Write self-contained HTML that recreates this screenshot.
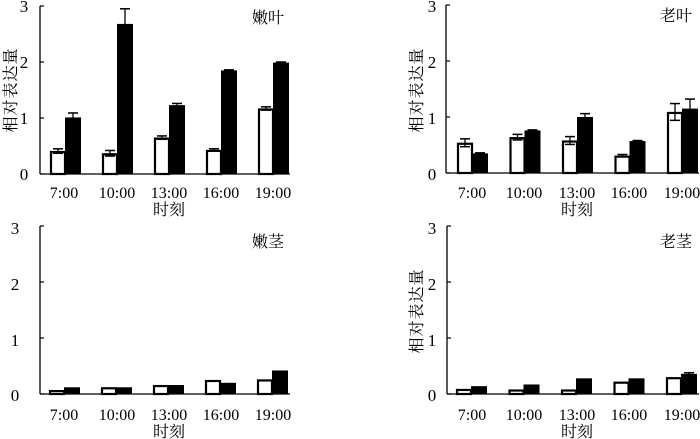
<!DOCTYPE html>
<html><head><meta charset="utf-8"><style>
body{margin:0;background:#fff}
svg{display:block}
text{font-family:"Liberation Serif","Noto Serif CJK SC",serif;fill:#000}
.t{font-size:17px}
.x{font-size:16px}
.c{font-family:"Liberation Serif","Noto Serif CJK SC","Noto Sans CJK SC",serif;font-size:16px}
.yl{font-family:"Liberation Serif","Noto Serif CJK SC","Noto Sans CJK SC",serif;font-size:16px;letter-spacing:1px}
</style></head><body>
<svg id="s" width="700" height="439" viewBox="0 0 700 439">
<text class="t" x="24" y="12" text-anchor="middle">3</text>
<text class="t" x="24" y="68" text-anchor="middle">2</text>
<text class="t" x="24" y="124" text-anchor="middle">1</text>
<text class="t" x="24" y="180" text-anchor="middle">0</text>
<text class="c" x="252" y="23">嫩叶</text>
<text class="yl" transform="translate(16,90) rotate(-90)" text-anchor="middle">相对表达量</text>
<text class="x" x="64" y="198" text-anchor="middle">7:00</text>
<text class="x" x="117" y="198" text-anchor="middle">10:00</text>
<text class="x" x="169" y="198" text-anchor="middle">13:00</text>
<text class="x" x="221" y="198" text-anchor="middle">16:00</text>
<text class="x" x="273" y="198" text-anchor="middle">19:00</text>
<text class="c" x="169" y="215" text-anchor="middle">时刻</text>
<text class="t" x="432" y="12" text-anchor="middle">3</text>
<text class="t" x="432" y="68" text-anchor="middle">2</text>
<text class="t" x="432" y="124" text-anchor="middle">1</text>
<text class="t" x="432" y="180" text-anchor="middle">0</text>
<text class="c" x="660" y="21">老叶</text>
<text class="yl" transform="translate(422,90) rotate(-90)" text-anchor="middle">相对表达量</text>
<text class="x" x="472" y="198" text-anchor="middle">7:00</text>
<text class="x" x="524" y="198" text-anchor="middle">10:00</text>
<text class="x" x="577" y="198" text-anchor="middle">13:00</text>
<text class="x" x="629" y="198" text-anchor="middle">16:00</text>
<text class="x" x="682" y="198" text-anchor="middle">19:00</text>
<text class="c" x="577" y="215" text-anchor="middle">时刻</text>
<text class="t" x="15" y="234" text-anchor="middle">3</text>
<text class="t" x="15" y="290" text-anchor="middle">2</text>
<text class="t" x="15" y="346" text-anchor="middle">1</text>
<text class="t" x="15" y="401" text-anchor="middle">0</text>
<text class="c" x="252" y="247">嫩茎</text>
<text class="x" x="64" y="420" text-anchor="middle">7:00</text>
<text class="x" x="117" y="420" text-anchor="middle">10:00</text>
<text class="x" x="169" y="420" text-anchor="middle">13:00</text>
<text class="x" x="221" y="420" text-anchor="middle">16:00</text>
<text class="x" x="273" y="420" text-anchor="middle">19:00</text>
<text class="c" x="169" y="437" text-anchor="middle">时刻</text>
<text class="t" x="432" y="234" text-anchor="middle">3</text>
<text class="t" x="432" y="290" text-anchor="middle">2</text>
<text class="t" x="432" y="346" text-anchor="middle">1</text>
<text class="t" x="432" y="401" text-anchor="middle">0</text>
<text class="c" x="660" y="247">老茎</text>
<text class="yl" transform="translate(422,311) rotate(-90)" text-anchor="middle">相对表达量</text>
<text class="x" x="472" y="420" text-anchor="middle">7:00</text>
<text class="x" x="524" y="420" text-anchor="middle">10:00</text>
<text class="x" x="577" y="420" text-anchor="middle">13:00</text>
<text class="x" x="629" y="420" text-anchor="middle">16:00</text>
<text class="x" x="682" y="420" text-anchor="middle">19:00</text>
<text class="c" x="577" y="437" text-anchor="middle">时刻</text>
</svg>
<script>
var s=document.getElementById('s'),NS='http://www.w3.org/2000/svg';
function el(t,a){var e=document.createElementNS(NS,t);for(var k in a)e.setAttribute(k,a[k]);s.appendChild(e);}
var P=[
 {ax:40,y0:174,u:56,x0:50,sp:52,end:290,w:[.41,.37,.65,.43,1.17],we:[.04,.05,.03,.02,.03],b:[1.01,2.68,1.23,1.85,1.99],be:[.08,.27,.03,.01,.01]},
 {ax:446,y0:173,u:56,x0:457,sp:52.5,end:699,w:[.54,.64,.58,.31,1.09],we:[.07,.05,.07,.02,.15],b:[.35,.76,1.0,.57,1.15],be:[.01,.01,.06,.01,.17]},
 {ax:40,y0:394,u:56,x0:49,sp:52,end:290,w:[.07,.12,.16,.25,.26],we:[0,0,0,0,0],b:[.12,.12,.16,.2,.42],be:[0,0,0,0,0]},
 {ax:447,y0:394,u:56,x0:456,sp:52.5,end:699,w:[.09,.08,.08,.22,.3],we:[0,0,0,0,.0],b:[.14,.17,.28,.28,.36],be:[0,0,0,0,.02]}
];
P.forEach(function(p){
 var top=p.y0-3*p.u;
 el('line',{x1:p.ax,y1:top,x2:p.ax,y2:p.y0,stroke:'#000','stroke-width':1.3});
 el('line',{x1:p.ax,y1:p.y0,x2:p.end,y2:p.y0,stroke:'#000','stroke-width':1.3});
 for(var i=0;i<=3;i++)el('line',{x1:p.ax,y1:p.y0-i*p.u,x2:p.ax+4,y2:p.y0-i*p.u,stroke:'#000','stroke-width':1.2});
 for(var j=0;j<5;j++){
  var x=p.x0+j*p.sp;
  function err(cx,v,e){if(e<=0)return;var y=p.y0-v*p.u;el('line',{x1:cx,y1:y-e*p.u,x2:cx,y2:y+e*p.u,stroke:'#000','stroke-width':1.3});el('line',{x1:cx-5,y1:y-e*p.u,x2:cx+5,y2:y-e*p.u,stroke:'#000','stroke-width':1.5});el('line',{x1:cx-5,y1:y+e*p.u,x2:cx+5,y2:y+e*p.u,stroke:'#000','stroke-width':1.5});}
  var hw=p.w[j]*p.u;
  el('rect',{x:x+1,y:p.y0-hw+1,width:14,height:Math.max(hw-1,0.5),fill:'#fff',stroke:'#000','stroke-width':2.2});
  err(x+8,p.w[j],p.we[j]);
  var hb=p.b[j]*p.u;
  el('rect',{x:x+15,y:p.y0-hb,width:16,height:hb,fill:'#000'});
  err(x+23,p.b[j],p.be[j]);
 }
});
</script>
</body></html>
